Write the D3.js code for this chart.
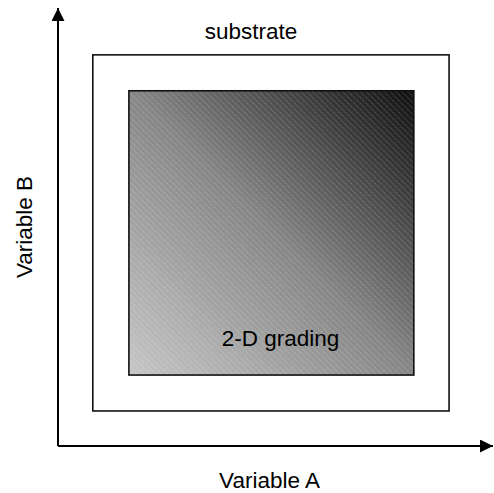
<!DOCTYPE html>
<html><head><meta charset="utf-8">
<script src="https://cdn.jsdelivr.net/npm/d3@7"></script>
<style>body{margin:0;background:#fff}</style>
</head><body>
<script>
const axisLabels = ["Variable A", "Variable B"];
const regionNames = ["substrate", "2-D grading"];
const regionX0 = [8, 16.3];
const regionX1 = [89.9, 81.8];
const regionY0 = [8, 16.2];
const regionY1 = [89.3, 81.1];
const gradientStops = [0, 0.5, 1];
const gradientColors = ["#c6c6c6", "#868686", "#0e0e0e"];

const W = 494, H = 493;
const svg = d3.select("body").append("svg").attr("width", W).attr("height", H);
const x = d3.scaleLinear().domain([0, 100]).range([58, 493]);
const y = d3.scaleLinear().domain([0, 100]).range([446, 8]);

const defs = svg.append("defs");
const grad = defs.append("linearGradient").attr("id", "g2d")
  .attr("x1", 0).attr("y1", 1).attr("x2", 1).attr("y2", 0);
grad.selectAll("stop").data(gradientStops).join("stop")
  .attr("offset", d => d).attr("stop-color", (d, i) => gradientColors[i]);
const pat = defs.append("pattern").attr("id", "hatch").attr("patternUnits", "userSpaceOnUse")
  .attr("width", 4.2).attr("height", 4.2).attr("patternTransform", "rotate(-45)");
pat.append("line").attr("x1", 1).attr("y1", 0).attr("x2", 1).attr("y2", 4.2)
  .attr("stroke", "#fff").attr("stroke-opacity", 0.3).attr("stroke-width", 1)
  .attr("stroke-dasharray", "1,1");

defs.append("marker").attr("id", "arr").attr("viewBox", "0 0 10 10")
  .attr("refX", 10).attr("refY", 5).attr("markerWidth", 6.5).attr("markerHeight", 6.5)
  .attr("markerUnits", "strokeWidth").attr("orient", "auto")
  .append("path").attr("d", "M0,0 L10,5 L0,10 Z").attr("fill", "#000");

svg.append("line").attr("x1", x(0)).attr("y1", y(0)).attr("x2", x(0)).attr("y2", y(100))
  .attr("stroke", "#000").attr("stroke-width", 2).attr("marker-end", "url(#arr)");
svg.append("line").attr("x1", x(0)).attr("y1", y(0)).attr("x2", x(100)).attr("y2", y(0))
  .attr("stroke", "#000").attr("stroke-width", 2).attr("marker-end", "url(#arr)");

const regions = regionNames.map((n, i) => ({ name: n, x0: regionX0[i], x1: regionX1[i], y0: regionY0[i], y1: regionY1[i] }));
svg.selectAll("rect.sub").data([regions[0]]).join("rect").attr("class", "sub")
  .attr("x", d => x(d.x0)).attr("y", d => y(d.y1))
  .attr("width", d => x(d.x1) - x(d.x0)).attr("height", d => y(d.y0) - y(d.y1))
  .attr("fill", "#fff").attr("stroke", "#111").attr("stroke-width", 1.6);
const g2 = regions[1];
svg.append("rect").attr("x", x(g2.x0)).attr("y", y(g2.y1))
  .attr("width", x(g2.x1) - x(g2.x0)).attr("height", y(g2.y0) - y(g2.y1))
  .attr("fill", "url(#g2d)");
svg.append("rect").attr("x", x(g2.x0)).attr("y", y(g2.y1))
  .attr("width", x(g2.x1) - x(g2.x0)).attr("height", y(g2.y0) - y(g2.y1))
  .attr("fill", "url(#hatch)").attr("stroke", "#111").attr("stroke-width", 1.6);

const font = "Arial, 'Liberation Sans', sans-serif";
const fs = 22.5;
svg.append("text").attr("x", 251).attr("y", 39)
  .attr("text-anchor", "middle").attr("font-family", font).attr("font-size", fs).attr("fill", "#000")
  .text(regions[0].name);
svg.append("text").attr("x", 280.5).attr("y", 346)
  .attr("text-anchor", "middle").attr("font-family", font).attr("font-size", fs).attr("fill", "#000")
  .text(regions[1].name);
svg.append("text").attr("x", 269.5).attr("y", 488)
  .attr("text-anchor", "middle").attr("font-family", font).attr("font-size", fs).attr("fill", "#000")
  .text(axisLabels[0]);
svg.append("text").attr("transform", "translate(32,227) rotate(-90)")
  .attr("text-anchor", "middle").attr("font-family", font).attr("font-size", fs).attr("fill", "#000")
  .text(axisLabels[1]);
</script>
</body></html>
